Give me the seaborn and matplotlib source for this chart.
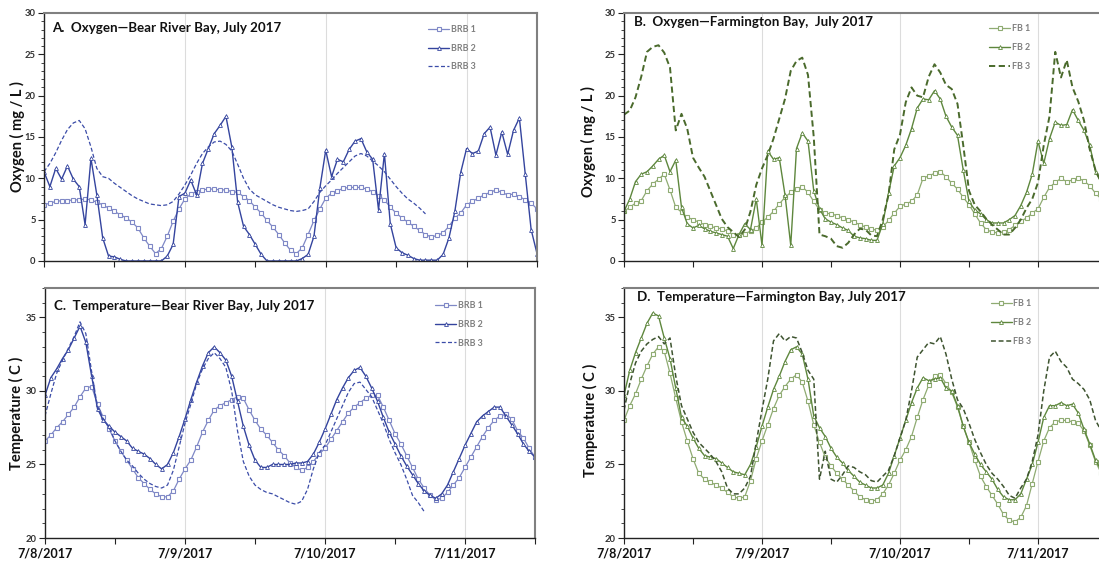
import pandas as pd
import matplotlib
matplotlib.use("Agg")
import matplotlib.pyplot as plt
from matplotlib.ticker import FixedLocator, FixedFormatter, MultipleLocator
import seaborn as sns

# Hourly readings starting 7/8/2017 00:00
START = "2017-07-08 00:00"

# Dissolved oxygen, Bear River Bay (mg/L)
brb_oxygen_1 = [
    6.8, 7.0, 7.2, 7.3, 7.3, 7.4, 7.4, 7.5, 7.4, 7.1, 6.8, 6.4,
    6.0, 5.6, 5.2, 4.7, 4.0, 2.8, 1.8, 0.9, 1.5, 3.0, 4.8, 6.3,
    7.5, 8.1, 8.4, 8.6, 8.7, 8.7, 8.6, 8.6, 8.4, 8.3, 7.8, 7.3,
    6.5, 5.8, 4.9, 4.1, 3.2, 2.2, 1.3, 0.9, 1.6, 3.2, 4.9, 6.3,
    7.6, 8.2, 8.5, 8.8, 8.9, 8.9, 8.9, 8.7, 8.4, 7.9, 7.4, 6.5,
    5.8, 5.2, 4.7, 4.2, 3.7, 3.2, 2.9, 3.1, 3.4, 4.2, 5.2, 5.8,
    6.8, 7.2, 7.6, 8.0, 8.3, 8.6, 8.3, 8.0, 8.1, 7.8, 7.4, 7.0,
    6.3,
]
brb_oxygen_2 = [
    10.8, 9.0, 11.2, 9.9, 11.5, 9.9, 9.0, 4.4, 12.4, 8.0, 2.8, 0.6,
    0.5, 0.2, 0.0, 0.0, 0.0, 0.0, 0.0, 0.0, 0.0, 0.6, 2.0, 7.8,
    8.2, 9.8, 8.0, 11.8, 13.6, 15.4, 16.4, 17.5, 13.8, 7.1, 4.2, 3.2,
    2.0, 0.8, 0.0, 0.0, 0.0, 0.0, 0.0, 0.0, 0.3, 0.8, 3.0, 8.8,
    13.4, 10.2, 12.3, 12.0, 13.5, 14.5, 14.8, 13.2, 12.3, 6.2, 13.0, 4.5,
    1.6, 1.0, 0.7, 0.3, 0.1, 0.1, 0.1, 0.1, 0.8, 2.8, 6.0, 10.7,
    13.6, 13.0, 13.3, 15.4, 16.2, 12.8, 15.6, 12.9, 15.8, 17.3, 10.5, 3.8,
    0.9,
]
brb_oxygen_3 = [
    10.8, 11.8, 13.1, 14.6, 15.9, 16.7, 17.0, 16.0, 13.8, 11.2, 10.2, 10.0,
    9.4, 8.9, 8.4, 7.9, 7.5, 7.2, 6.9, 6.8, 6.7, 6.8, 7.2, 8.1,
    9.2, 10.4, 11.8, 13.0, 13.8, 14.4, 14.5, 14.1, 13.3, 11.7, 10.0, 8.7,
    8.0, 7.6, 7.2, 6.8, 6.5, 6.3, 6.1, 6.0, 6.1, 6.3, 7.2, 8.3,
    9.1, 9.8, 10.6, 11.3, 12.0, 12.7, 13.0, 12.7, 12.1, 11.5, 10.8, 9.9,
    9.0, 8.2, 7.5, 7.0, 6.4, 5.7,
]

# Dissolved oxygen, Farmington Bay (mg/L)
fb_oxygen_1 = [
    6.0, 6.5, 7.0, 7.3, 8.5, 9.3, 9.9, 10.5, 8.6, 6.5, 5.9, 5.3,
    5.0, 4.7, 4.4, 4.2, 4.0, 3.9, 3.6, 3.2, 3.1, 3.3, 3.6, 4.0,
    4.7, 5.3, 6.0, 6.9, 7.7, 8.3, 8.7, 9.0, 8.3, 7.2, 6.2, 5.8,
    5.7, 5.5, 5.2, 5.0, 4.7, 4.4, 4.1, 3.9, 3.7, 4.1, 4.9, 5.8,
    6.6, 6.9, 7.2, 8.0, 10.0, 10.3, 10.6, 10.8, 10.2, 9.4, 8.7, 7.7,
    6.8, 5.7, 4.6, 3.8, 3.5, 3.4, 3.5, 3.8, 4.3, 4.8, 5.2, 5.8,
    6.3, 7.7, 8.9, 9.5, 10.0, 9.6, 9.8, 10.0, 9.7, 9.1, 8.2, 7.5,
    7.0,
]
fb_oxygen_2 = [
    6.0, 7.5, 9.6, 10.5, 10.8, 11.5, 12.3, 12.8, 10.8, 12.2, 6.5, 4.5,
    4.0, 4.3, 3.9, 3.6, 3.4, 3.2, 3.0, 1.5, 3.2, 4.5, 3.8, 7.5,
    1.9, 13.3, 12.3, 12.5, 8.0, 1.9, 13.6, 15.5, 14.5, 8.5, 6.3, 5.1,
    4.7, 4.4, 4.0, 3.7, 3.0, 2.8, 2.7, 2.5, 2.5, 4.5, 8.2, 11.5,
    12.5, 14.0, 16.0, 18.5, 19.6, 19.5, 20.6, 19.6, 17.5, 16.2, 15.2, 11.0,
    7.2, 6.2, 5.7, 5.0, 4.6, 4.6, 4.6, 5.0, 5.5, 6.7, 8.3, 10.5,
    14.5, 11.8, 14.8, 16.8, 16.4, 16.5, 18.3, 17.0, 15.8, 14.0, 10.8, 9.5,
    8.5,
]
fb_oxygen_3 = [
    17.7, 18.2, 19.8, 22.3, 25.3, 25.9, 26.1, 25.2, 23.4, 15.8, 17.8, 16.0,
    12.5, 11.3, 10.2, 8.5, 6.8, 5.1, 4.1, 3.5, 2.9, 3.8, 6.0, 9.2,
    11.2, 12.8, 14.8, 17.2, 19.6, 23.0, 24.2, 24.6, 22.5, 15.0, 3.2, 3.0,
    2.7, 1.8, 1.6, 2.2, 3.2, 3.9, 3.8, 3.1, 3.0, 5.0, 8.0, 13.5,
    15.3, 19.2, 21.0, 20.0, 19.8, 22.3, 23.8, 22.8, 21.3, 20.8, 19.0, 14.0,
    8.5, 6.8, 6.0, 5.1, 4.4, 3.8, 3.2, 3.2, 4.0, 5.0, 6.4, 7.5,
    9.5, 14.0, 17.5, 25.3, 22.2, 24.3, 21.0, 19.3, 17.0, 13.5, 11.0, 9.5,
    8.5,
]

# Water temperature, Bear River Bay (C)
brb_temp_1 = [
    26.6, 27.0, 27.5, 27.9, 28.4, 28.9, 29.6, 30.2, 30.3, 29.1, 28.2, 27.4,
    26.6, 25.9, 25.3, 24.7, 24.1, 23.7, 23.3, 23.0, 22.8, 22.8, 23.2, 24.0,
    24.7, 25.3, 26.2, 27.2, 28.0, 28.7, 29.0, 29.2, 29.4, 29.6, 29.5, 28.7,
    28.0, 27.4, 27.0, 26.5, 26.0, 25.6, 25.1, 24.8, 24.6, 24.8, 25.2, 25.7,
    26.1, 26.7, 27.3, 27.9, 28.5, 28.9, 29.2, 29.5, 29.7, 29.7, 28.9, 28.0,
    27.1, 26.4, 25.6, 24.8, 24.0, 23.4, 22.9, 22.6, 22.7, 23.1, 23.6, 24.1,
    24.8, 25.5, 26.2, 26.9, 27.5, 28.0, 28.3, 28.4, 28.1, 27.3, 26.8, 26.1,
    25.5,
]
brb_temp_2 = [
    29.7, 30.9, 31.5, 32.2, 32.8, 33.6, 34.4, 33.3, 31.0, 28.8, 28.0, 27.6,
    27.2, 26.9, 26.6, 26.1, 25.9, 25.7, 25.4, 25.0, 24.7, 25.0, 25.8, 26.9,
    28.1, 29.4, 30.6, 31.7, 32.6, 33.0, 32.6, 32.1, 31.0, 29.3, 27.6, 26.3,
    25.3, 24.8, 24.8, 25.0, 25.0, 25.0, 25.0, 25.1, 25.1, 25.2, 25.7, 26.5,
    27.4, 28.4, 29.4, 30.2, 30.9, 31.4, 31.6, 31.0, 30.2, 29.3, 28.2, 27.2,
    26.4, 25.6, 24.9, 24.3, 23.7, 23.2, 22.9, 22.7, 23.0, 23.6, 24.5, 25.4,
    26.3, 27.1, 27.9, 28.3, 28.6, 28.9, 28.9, 28.3, 27.7, 27.1, 26.4, 25.9,
    25.5,
]
brb_temp_3 = [
    28.3, 29.8, 31.2, 32.1, 32.9, 33.7, 34.7, 33.9, 31.3, 28.9, 28.1, 27.5,
    26.6, 25.9, 25.3, 24.9, 24.4, 24.0, 23.7, 23.5, 23.4, 23.6, 24.6, 26.2,
    27.8, 29.1, 30.5, 31.5, 32.2, 32.6, 32.2, 31.6, 30.0, 27.3, 25.2, 24.2,
    23.6, 23.3, 23.1, 23.0, 22.8, 22.6, 22.4, 22.3, 22.5, 23.3, 24.7, 25.8,
    26.3, 27.2, 28.1, 29.0, 29.9, 30.5, 30.6, 30.1, 29.6, 28.7, 27.8, 26.7,
    25.8, 25.0, 24.0, 22.9, 22.4, 21.8,
]

# Water temperature, Farmington Bay (C)
fb_temp_1 = [
    28.0, 29.0, 29.8, 30.8, 31.7, 32.5, 33.0, 32.7, 31.2, 29.5, 27.9, 26.6,
    25.4, 24.4, 24.0, 23.8, 23.6, 23.4, 23.1, 22.8, 22.7, 22.8, 23.9, 25.4,
    26.6, 27.7, 28.8, 29.7, 30.3, 30.8, 31.1, 30.6, 29.3, 27.7, 26.5, 25.5,
    24.9, 24.4, 24.0, 23.6, 23.2, 22.8, 22.6, 22.5, 22.6, 23.0, 23.6, 24.4,
    25.3, 26.0, 26.9, 28.2, 29.4, 30.4, 31.0, 31.1, 30.5, 29.9, 28.9, 27.6,
    26.5, 25.3, 24.2, 23.5, 22.9, 22.3, 21.6, 21.2, 21.1, 21.4, 22.2, 23.7,
    25.2, 26.6, 27.5, 27.9, 28.0, 28.0, 27.9, 27.8, 27.3, 26.3, 25.2, 24.4,
    23.8,
]
fb_temp_2 = [
    29.7, 31.4, 32.6, 33.6, 34.6, 35.3, 35.1, 33.6, 32.2, 30.2, 28.2, 27.6,
    26.8, 26.1, 25.6, 25.5, 25.4, 25.1, 24.8, 24.5, 24.4, 24.3, 25.0, 26.2,
    27.6, 28.9, 30.1, 31.0, 32.0, 32.8, 33.0, 32.5, 30.8, 28.3, 27.5, 26.9,
    26.1, 25.5, 25.1, 24.6, 24.2, 23.8, 23.6, 23.4, 23.4, 23.6, 24.4, 25.6,
    26.8, 28.0, 29.2, 30.2, 30.9, 30.7, 30.8, 30.9, 30.2, 30.0, 29.0, 27.6,
    26.5, 25.7, 25.0, 24.5, 24.0, 23.3, 22.8, 22.6, 22.6, 23.0, 24.0, 25.0,
    26.5, 28.2, 29.0, 29.0, 29.2, 29.0, 29.1, 28.5, 27.4, 26.4, 25.3, 24.6,
    24.0,
]
fb_temp_3 = [
    28.7, 30.5, 31.9, 32.7, 33.2, 33.5, 33.7, 33.2, 33.6, 31.0, 29.0, 28.1,
    27.2, 26.5, 26.1, 25.7, 25.2, 24.5, 23.4, 23.0, 23.0, 23.4, 24.2, 26.5,
    28.7, 30.8, 33.4, 33.9, 33.4, 33.7, 33.6, 32.6, 31.4, 30.8, 24.0, 25.9,
    24.0, 23.8, 24.3, 24.9, 24.8, 24.5, 24.3, 23.9, 23.8, 24.2, 24.6, 25.6,
    26.8, 28.0, 30.0, 32.3, 32.8, 33.3, 33.2, 33.7, 32.5, 30.8, 29.4, 28.8,
    27.8, 26.7, 25.8, 25.0, 24.4, 24.0, 23.5, 22.9, 22.7, 23.4, 24.0, 25.2,
    27.0, 30.0, 32.3, 32.7, 32.0, 31.6, 30.8, 30.5, 30.1, 29.4, 28.0, 27.3,
    26.8,
]

brb_labels = ["BRB 1", "BRB 2", "BRB 3"]
fb_labels = ["FB 1", "FB 2", "FB 3"]
day_ticks = ["2017-07-08", "2017-07-09", "2017-07-10", "2017-07-11"]
day_labels = ["7/8/2017", "7/9/2017", "7/10/2017", "7/11/2017"]
half_day_ticks = ["2017-07-08 12:00", "2017-07-09 12:00",
                  "2017-07-10 12:00", "2017-07-11 12:00"]
x_end = "2017-07-11 12:00"

BLUE_LIGHT = "#7f88c6"
BLUE_DARK = "#34449e"
BLUE_DASH = "#3b4ca8"
GREEN_LIGHT = "#8fab72"
GREEN_MID = "#5e873d"
GREEN_DARK = "#4a6a2c"
GREEN_DARKER = "#3e5430"

sns.set_theme(style="white")
plt.rcParams["font.family"] = ["Lato", "DejaVu Sans"]

W, H = 1099, 562
fig = plt.figure(figsize=(W / 100, H / 100), dpi=100)


def box(left, top, right, bottom):
    return [left / W, (H - bottom) / H, (right - left) / W, (bottom - top) / H]


ax_a = fig.add_axes(box(44, 13, 537, 261))
ax_b = fig.add_axes(box(624, 13, 1107, 261))
ax_c = fig.add_axes(box(45, 288, 535, 538))
ax_d = fig.add_axes(box(624, 288, 1107, 538))


def series(values):
    t = pd.date_range(START, periods=len(values), freq="h")
    return pd.DataFrame({"time": t, "value": values})


def draw_site(ax, values, labels, colors, dash_color, dash_lw):
    c1, c2 = colors
    sns.lineplot(data=series(values[0]), x="time", y="value", ax=ax,
                 color=c1, lw=0.9, marker="s", markersize=3.3,
                 markerfacecolor="white", markeredgecolor=c1,
                 markeredgewidth=0.8, label=labels[0])
    sns.lineplot(data=series(values[1]), x="time", y="value", ax=ax,
                 color=c2, lw=1.0, marker="^", markersize=2.8,
                 markerfacecolor="white", markeredgecolor=c2,
                 markeredgewidth=0.6, label=labels[1])
    sns.lineplot(data=series(values[2]), x="time", y="value", ax=ax,
                 color=dash_color, lw=dash_lw, linestyle=(0, (3.2, 1.8)),
                 label=labels[2])


draw_site(ax_a, [brb_oxygen_1, brb_oxygen_2, brb_oxygen_3], brb_labels,
          (BLUE_LIGHT, BLUE_DARK), BLUE_DASH, 0.9)
draw_site(ax_b, [fb_oxygen_1, fb_oxygen_2, fb_oxygen_3], fb_labels,
          (GREEN_LIGHT, GREEN_MID), GREEN_DARK, 1.4)
draw_site(ax_c, [brb_temp_1, brb_temp_2, brb_temp_3], brb_labels,
          (BLUE_LIGHT, BLUE_DARK), BLUE_DASH, 0.9)
draw_site(ax_d, [fb_temp_1, fb_temp_2, fb_temp_3], fb_labels,
          (GREEN_LIGHT, GREEN_MID), GREEN_DARKER, 1.1)

majors = [pd.Timestamp(d) for d in day_ticks]
minors = [pd.Timestamp(d) for d in half_day_ticks]

panels = [
    (ax_a, "A.  Oxygen\u2014Bear River Bay, July 2017", (0.016, 0.940),
     "Oxygen ( mg / L )", (-0.054, 0.5), (0, 30), (0.779, 0.952), False),
    (ax_b, "B.  Oxygen\u2014Farmington Bay,  July 2017", (0.021, 0.964),
     "Oxygen ( mg / L )", (-0.0735, 0.48), (0, 30), (0.756, 0.954), False),
    (ax_c, "C.  Temperature\u2014Bear River Bay, July 2017", (0.018, 0.928),
     "Temperature ( C )", (-0.059, 0.5), (20, 37), (0.796, 0.948), True),
    (ax_d, "D.  Temperature\u2014Farmington Bay, July 2017", (0.027, 0.964),
     "Temperature ( C )", (-0.070, 0.472), (20, 37), (0.759, 0.954), True),
]

for ax, title, tpos, ylab, ypos, ylim, lpos, show_dates in panels:
    ax.set_xlim(pd.Timestamp(START), pd.Timestamp(x_end))
    ax.set_ylim(*ylim)
    ax.set_xlabel("")
    ax.set_ylabel(ylab, fontsize=10.5, fontweight="bold", color="#111111",
                  va="center")
    ax.yaxis.set_label_coords(*ypos)

    ax.xaxis.set_major_locator(FixedLocator([ax.xaxis.convert_units(d) for d in majors]))
    ax.xaxis.set_minor_locator(FixedLocator([ax.xaxis.convert_units(d) for d in minors]))
    ax.xaxis.set_major_formatter(FixedFormatter(day_labels if show_dates else [""] * 4))
    ax.yaxis.set_major_locator(MultipleLocator(5))
    ax.yaxis.set_minor_locator(MultipleLocator(1))

    ax.tick_params(axis="x", which="both", direction="out", length=4,
                   width=0.8, color="#222222", bottom=True,
                   labelsize=9, labelcolor="#111111", pad=3)
    ax.tick_params(axis="y", which="major", direction="out", length=4,
                   width=0.8, color="#222222", left=True,
                   labelsize=6.8, labelcolor="#333333", pad=2)
    ax.tick_params(axis="y", which="minor", direction="out", length=2.5,
                   width=0.7, color="#444444", left=True)
    for lbl in ax.get_xticklabels() + ax.get_yticklabels():
        lbl.set_fontweight("bold")

    ax.grid(False)
    ax.grid(axis="x", which="major", color="#dcdcdc", lw=0.8)
    ax.set_axisbelow(True)
    for side in ("left", "bottom"):
        ax.spines[side].set_color("#222222")
        ax.spines[side].set_linewidth(1.0)
    for side in ("top", "right"):
        ax.spines[side].set_color("#808080")
        ax.spines[side].set_linewidth(1.5)

    ax.text(tpos[0], tpos[1], title, transform=ax.transAxes, fontsize=9.6,
            fontweight="bold", color="#111111", ha="left", va="center")

    handles, names = ax.get_legend_handles_labels()
    leg = ax.legend(handles, names, loc="upper left", bbox_to_anchor=lpos,
                    frameon=False, borderpad=0, borderaxespad=0,
                    handlelength=2.4, handletextpad=0.15, labelspacing=1.1,
                    prop={"size": 6.4, "weight": "bold"})
    for txt in leg.get_texts():
        txt.set_color("#7f7f7f")

fig.savefig("out.png", dpi=100)
